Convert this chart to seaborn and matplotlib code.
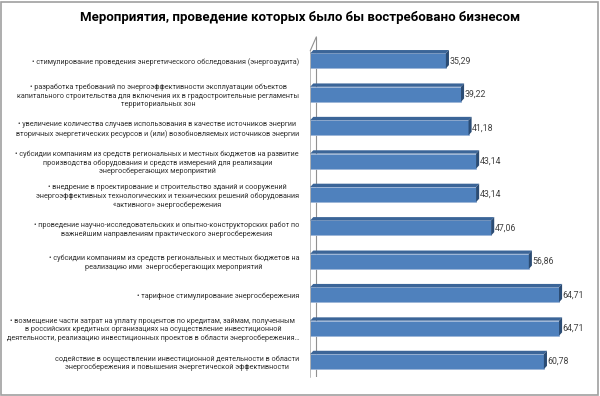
import matplotlib
matplotlib.use("Agg")
import matplotlib.pyplot as plt
import seaborn as sns
import pandas as pd
from matplotlib.patches import Polygon, Rectangle

title = "Мероприятия, проведение которых было бы востребовано бизнесом"

categories = [
    "• стимулирование проведения энергетического обследования (энергоаудита)",
    "• разработка требований по энергоэффективности эксплуатации объектов\nкапитального строительства для включения их в градостроительные регламенты\nтерриториальных зон",
    "• увеличение количества случаев использования в качестве источников энергии\nвторичных энергетических ресурсов и (или) возобновляемых источников энергии",
    "• субсидии компаниям из средств региональных и местных бюджетов на развитие\nпроизводства оборудования и средств измерений для реализации\nэнергосберегающих мероприятий",
    "• внедрение в проектирование и строительство зданий и сооружений\nэнергоэффективных технологических и технических решений оборудования\n«активного» энергосбережения",
    "• проведение научно-исследовательских и опытно-конструкторских работ по\nважнейшим направлениям практического энергосбережения",
    "• субсидии компаниям из средств региональных и местных бюджетов на\nреализацию ими  энергосберегающих мероприятий",
    "• тарифное стимулирование энергосбережения",
    "• возмещение части затрат на уплату процентов по кредитам, займам, полученным\nв российских кредитных организациях на осуществление инвестиционной\nдеятельности, реализацию инвестиционных проектов в области энергосбережения…",
    "содействие в осуществлении инвестиционной деятельности в области\nэнергосбережения и повышения энергетической эффективности",
]
values = [35.29, 39.22, 41.18, 43.14, 43.14, 47.06, 56.86, 64.71, 64.71, 60.78]
value_labels = ["35,29", "39,22", "41,18", "43,14", "43,14", "47,06", "56,86", "64,71", "64,71", "60,78"]

df = pd.DataFrame({"cat": categories, "val": values})

sns.set_theme(style="white")
plt.rcParams["font.family"] = ["Roboto", "DejaVu Sans"]

fig = plt.figure(figsize=(6.0, 3.96), dpi=100)
ax = fig.add_axes([0.517, 0.048, 0.455, 0.859])

front = "#4F81BD"
top_c = "#3B6598"
side_c = "#2B4C74"

sns.barplot(data=df, x="val", y="cat", orient="h", color=front, width=0.45,
            saturation=1, ax=ax, edgecolor="#9DB6D8", linewidth=0.6)

ax.set_xlim(0, 71)
ax.set_ylim(len(categories) - 0.54, -0.72)

dx = 0.8
dy = 0.1
for p, lab in zip(ax.patches, value_labels):
    x0, y0 = p.get_x(), p.get_y()
    w, h = p.get_width(), p.get_height()
    ax.add_patch(Polygon([(x0, y0), (x0 + w, y0), (x0 + w + dx, y0 - dy), (x0 + dx, y0 - dy)],
                         closed=True, facecolor=top_c, edgecolor="none", zorder=3))
    ax.add_patch(Polygon([(x0 + w, y0), (x0 + w + dx, y0 - dy), (x0 + w + dx, y0 + h - dy), (x0 + w, y0 + h)],
                         closed=True, facecolor=side_c, edgecolor="none", zorder=3))
    ax.text(x0 + w + dx + 0.1, y0 + h / 2, lab, va="center", ha="left",
            fontsize=6.3, color="#404040")

ax.axvline(dx * 2, color="#909090", lw=0.8, zorder=0)
ax.plot([0, dx * 2], [-0.3, -0.72], color="#909090", lw=0.8, clip_on=False)
ax.plot([0, 0], [-0.3, len(categories) - 0.54], color="#b0b0b0", lw=0.6, clip_on=False)

for s in ax.spines.values():
    s.set_visible(False)
ax.set_xticks([])
ax.set_xlabel("")
ax.set_ylabel("")
ax.tick_params(axis="y", length=0, pad=8)
for t in ax.get_yticklabels():
    t.set_fontsize(5.25)
    t.set_color("#303030")
    t.set_multialignment("center")
    t.set_linespacing(1.25)

fig.text(0.5, 0.955, title, ha="center", va="center", fontsize=9.5, fontweight="bold",
         color="#000000")

fig.add_artist(Rectangle((0.002, 0.003), 0.995, 0.993, transform=fig.transFigure,
                         fill=False, edgecolor="#A0A0A0", lw=1.2))

fig.savefig("out.png", dpi=100)
